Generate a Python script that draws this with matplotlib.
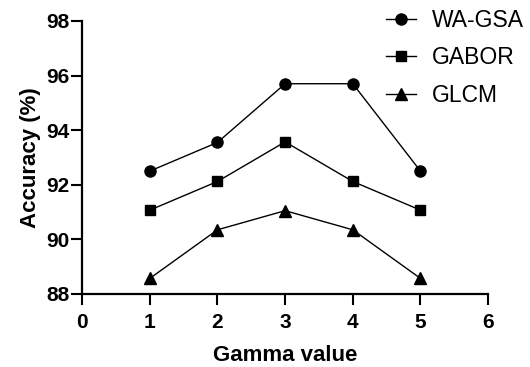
import matplotlib
matplotlib.use("Agg")
import matplotlib.pyplot as plt

gamma = [1, 2, 3, 4, 5]
wa_gsa = [92.5, 93.55, 95.7, 95.7, 92.5]
gabor = [91.07, 92.12, 93.57, 92.12, 91.07]
glcm = [88.57, 90.35, 91.05, 90.35, 88.57]
series_names = ["WA-GSA", "GABOR", "GLCM"]
x_ticks = [0, 1, 2, 3, 4, 5, 6]
y_ticks = [88, 90, 92, 94, 96, 98]

plt.rcParams['font.family'] = ['Liberation Sans', 'DejaVu Sans']

fig = plt.figure(figsize=(5.3, 3.67), dpi=100)
ax = fig.add_axes([0.155, 0.199, 0.766, 0.744])

ax.plot(gamma, wa_gsa, color='black', lw=1.0, marker='o', ms=8, label=series_names[0])
ax.plot(gamma, gabor, color='black', lw=1.0, marker='s', ms=7.5, label=series_names[1])
ax.plot(gamma, glcm, color='black', lw=1.0, marker='^', ms=8, label=series_names[2])

ax.set_xlim(0, 6)
ax.set_ylim(88, 98)
ax.set_xticks(x_ticks)
ax.set_yticks(y_ticks)
for lab in ax.get_xticklabels() + ax.get_yticklabels():
    lab.set_fontweight('bold')
    lab.set_fontsize(15)
ax.tick_params(width=1.5, length=8, direction='out')
ax.tick_params(axis='x', pad=6)
ax.tick_params(axis='y', pad=1)
for s in ['top', 'right']:
    ax.spines[s].set_visible(False)
for s in ['left', 'bottom']:
    ax.spines[s].set_linewidth(1.6)
    ax.spines[s].set_clip_on(False)

ax.set_xlabel("Gamma value", fontsize=16, fontweight='bold', labelpad=9)
ax.set_ylabel("Accuracy (%)", fontsize=16, fontweight='bold', labelpad=4)

leg = fig.legend(loc='upper left', bbox_to_anchor=(386 / 530, 1 - 9 / 367), frameon=False,
                 fontsize=16.5, handlelength=1.3, handletextpad=0.72, labelspacing=0.63,
                 borderpad=0, borderaxespad=0)

fig.savefig("out.png", dpi=100)
